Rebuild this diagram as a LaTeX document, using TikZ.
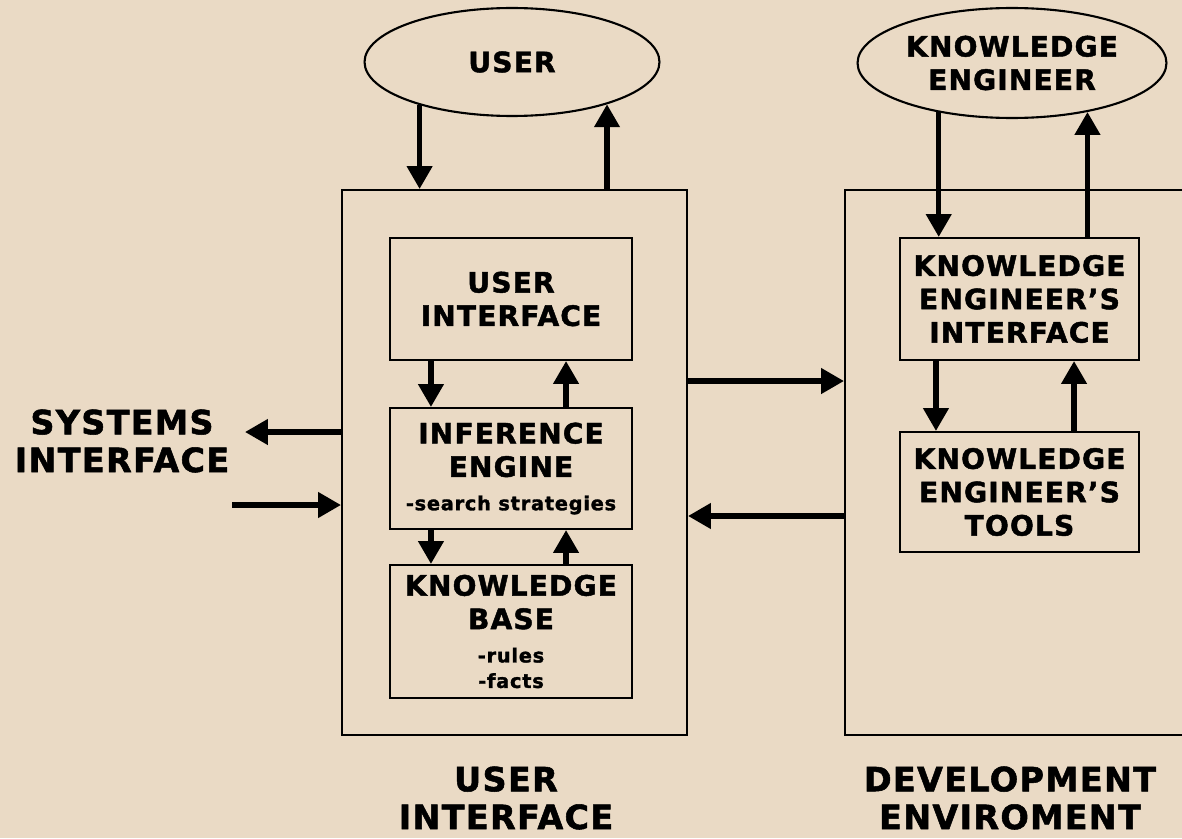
\documentclass[tikz,border=0pt]{standalone}
\usepackage{fontspec}
\setmainfont{DejaVu Sans}[LetterSpace=4.0,BoldFeatures={FakeBold=1.6}]
\usetikzlibrary{arrows.meta,shapes.geometric}
\definecolor{paper}{RGB}{234,218,197}
\newcommand{\boxfont}{\bfseries\fontsize{16}{19}\selectfont}
\newcommand{\tinyfont}{\fontsize{11}{13}\selectfont}
\newcommand{\titlefont}{\bfseries\fontsize{19}{21.5}\selectfont}

\begin{document}
\begin{tikzpicture}[x=0.02cm,y=-0.02cm]
\tikzstyle{ell} = [ellipse,draw,line width=1.2pt,align=center,inner sep=0pt,font=\boxfont]
\tikzstyle{envbox} = [rectangle,draw,line width=1.2pt,inner sep=0pt]
\tikzstyle{box} = [rectangle,draw,line width=1.2pt,align=center,inner sep=0pt,font=\boxfont]
\tikzstyle{title} = [align=center,font=\titlefont]
\tikzstyle{arr} = [line width=3pt,-{Triangle[width=14pt,length=13pt]}]
\fill[paper] (0,0) rectangle (1182,838);
\useasboundingbox (0,0) rectangle (1182,838);
\clip (0,0) rectangle (1182,838);

\node[ell,minimum width=5.9cm,minimum height=2.16cm] (user) at (512,62) {USER};
\node[ell,minimum width=6.18cm,minimum height=2.2cm] (keng) at (1012,63) {KNOWLEDGE\\ENGINEER};
\node[envbox,minimum width=6.9cm,minimum height=10.9cm] (uienv) at (514.5,462.5) {};
\node[envbox,minimum width=7.3cm,minimum height=10.9cm] (devenv) at (1027.5,462.5) {};
\node[box,minimum width=4.84cm,minimum height=2.44cm] (ui) at (511,299) {USER\\INTERFACE};
\node[box,minimum width=4.84cm,minimum height=2.42cm] (ie) at (511,468.5) {INFERENCE\\ENGINE\\{\tinyfont -search strategies}};
\node[box,minimum width=4.84cm,minimum height=2.66cm] (kb) at (511,631.5) {KNOWLEDGE\\BASE\\{\tinyfont -rules}\\[-4.5pt]{\tinyfont -facts}};
\node[box,minimum width=4.78cm,minimum height=2.44cm] (kei) at (1019.5,299) {KNOWLEDGE\\ENGINEER’S\\INTERFACE};
\node[box,minimum width=4.78cm,minimum height=2.4cm] (ket) at (1019.5,492) {KNOWLEDGE\\ENGINEER’S\\TOOLS};
\node[title] (sysif) at (122,441) {SYSTEMS\\INTERFACE};
\node[title] (uilabel) at (506,798) {USER\\INTERFACE};
\node[title] (devlabel) at (1010,798) {DEVELOPMENT\\ENVIROMENT};
\coordinate (sysout) at (245,432);
\coordinate (sysin) at (232,505);

\draw[arr] (user.205) -- (user.205 |- uienv.north);
\draw[arr] (uienv.north -| user.336) -- (user.336);
\draw[arr] (keng.214) -- (keng.214 |- kei.north);
\draw[arr] (kei.north -| keng.327) -- (keng.327);
\draw[arr] ([xshift=0.84cm]ui.south west) -- ([xshift=0.84cm]ie.north west);
\draw[arr] ([xshift=-1.34cm]ie.north east) -- ([xshift=-1.34cm]ui.south east);
\draw[arr] ([xshift=0.84cm]ie.south west) -- ([xshift=0.84cm]kb.north west);
\draw[arr] ([xshift=-1.34cm]kb.north east) -- ([xshift=-1.34cm]ie.south east);
\draw[arr] ([xshift=0.74cm]kei.south west) -- ([xshift=0.74cm]ket.north west);
\draw[arr] ([xshift=-1.32cm]ket.north east) -- ([xshift=-1.32cm]kei.south east);
\draw[arr] ([yshift=1.63cm]uienv.east) -- ([yshift=1.63cm]devenv.west);
\draw[arr] ([yshift=-1.07cm]devenv.west) -- ([yshift=-1.07cm]uienv.east);
\draw[arr] (uienv.west |- sysout) -- (sysout);
\draw[arr] (sysin) -- (sysin -| uienv.west);
\end{tikzpicture}
\end{document}
